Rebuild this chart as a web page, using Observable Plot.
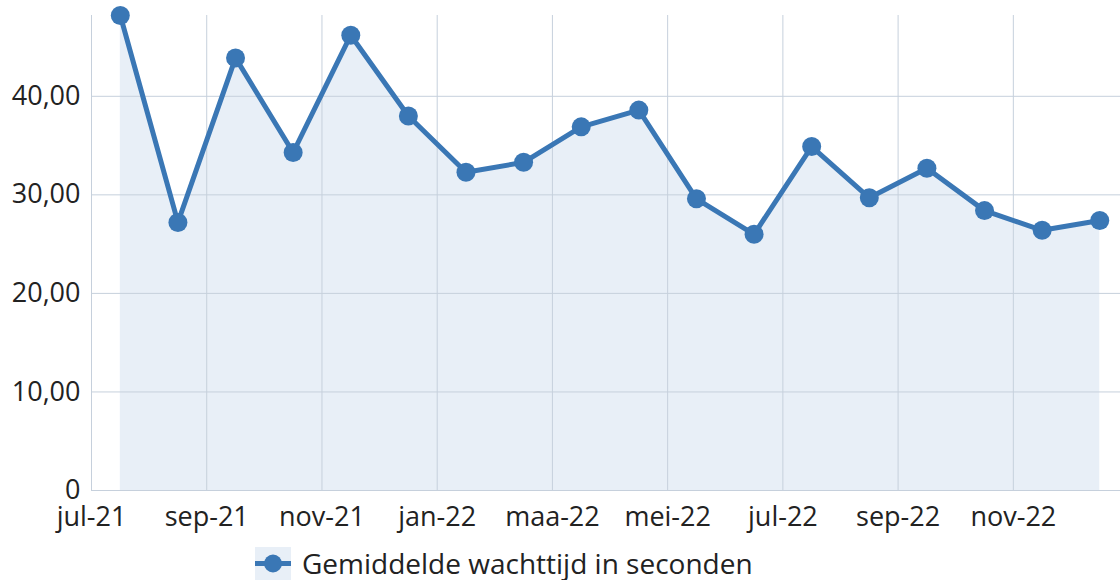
<!DOCTYPE html>
<html>
<head>
<meta charset="utf-8">
<script src="https://cdn.jsdelivr.net/npm/d3@7"></script>
<script src="https://cdn.jsdelivr.net/npm/@observablehq/plot@0.6"></script>
<style>
  html, body { margin: 0; padding: 0; background: #fff; }
  body { width: 1120px; height: 580px; overflow: hidden; position: relative; font-family: "Open Sans", "Noto Sans", sans-serif; }
  #legend { position: absolute; left: 255px; top: 547px; height: 33px; display: flex; align-items: center; font-size: 28px; line-height: 33px; color: #222; white-space: nowrap; }
  #legend svg { margin-right: 11px; display: block; }
</style>
</head>
<body>
<div id="chart"></div>
<div id="legend"></div>
<script>
const months = ["jul-21","aug-21","sep-21","okt-21","nov-21","dec-21","jan-22","feb-22","maa-22","apr-22","mei-22","jun-22","jul-22","aug-22","sep-22","okt-22","nov-22","dec-22"];
const waitSeconds = [48.2, 27.2, 43.9, 34.3, 46.2, 38.0, 32.3, 33.3, 36.9, 38.6, 29.6, 26.0, 34.9, 29.7, 32.7, 28.4, 26.4, 27.4];
const tickLabels = ["jul-21","sep-21","nov-21","jan-22","maa-22","mei-22","jul-22","sep-22","nov-22"];
const yTicks = [0, 10, 20, 30, 40];
const seriesName = "Gemiddelde wachttijd in seconden";

const blue = "#3a77b5";
const areaFill = "#e8eff7";
const gridColor = "#c6d0dc";

const data = waitSeconds.map((v, i) => ({month: months[i], i: i + 0.5, v}));
const tickPos = tickLabels.map((_, k) => k * 2);

const chart = Plot.plot({
  width: 1120,
  height: 535,
  marginLeft: 91,
  marginRight: 0,
  marginTop: 15,
  marginBottom: 45,
  style: {fontFamily: "'Open Sans', 'Noto Sans', sans-serif", fontSize: "27px", color: "#222", background: "#fff", overflow: "visible"},
  x: {domain: [0, 17.86], ticks: tickPos, tickFormat: d => tickLabels[d / 2], tickSize: 0, tickPadding: 16, label: null},
  y: {domain: [0, 48.2], ticks: yTicks, tickFormat: d => d === 0 ? "0" : d.toFixed(2).replace(".", ","), tickSize: 0, tickPadding: 11, label: null},
  marks: [
    Plot.areaY(data, {x: "i", y: "v", fill: areaFill}),
    Plot.gridX(tickPos, {stroke: gridColor, strokeOpacity: 1, strokeWidth: 1}),
    Plot.gridY(yTicks, {stroke: gridColor, strokeOpacity: 1, strokeWidth: 1}),
    Plot.line(data, {x: "i", y: "v", stroke: blue, strokeWidth: 5}),
    Plot.dot(data, {x: "i", y: "v", r: 9.5, fill: blue})
  ]
});
document.getElementById("chart").appendChild(chart);

const legend = document.getElementById("legend");
legend.innerHTML = `<svg width="36" height="33"><rect width="36" height="33" fill="${areaFill}"></rect><line x1="0" x2="36" y1="16.5" y2="16.5" stroke="${blue}" stroke-width="5"></line><circle cx="18" cy="16.5" r="9" fill="${blue}"></circle></svg><span>${seriesName}</span>`;
</script>
</body>
</html>
